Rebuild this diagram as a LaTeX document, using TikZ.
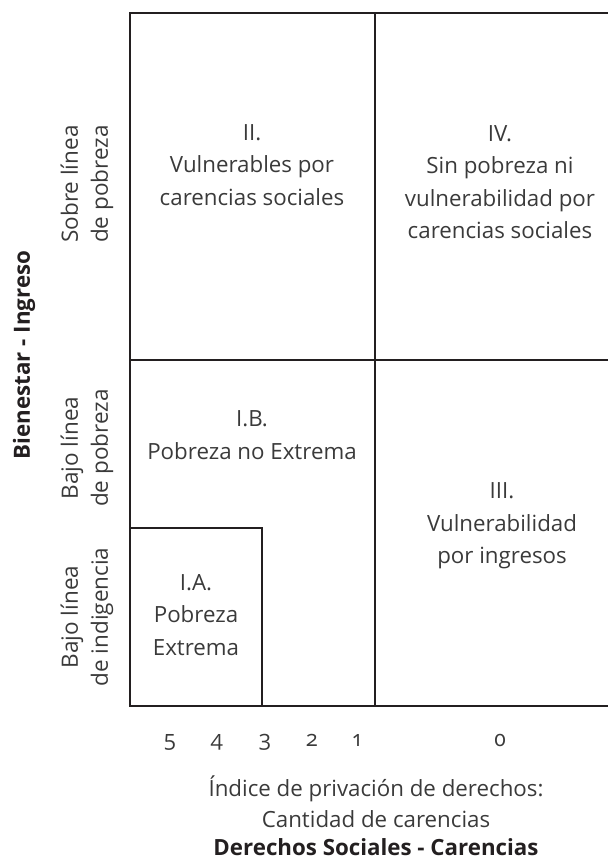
\documentclass[tikz,border=0pt]{standalone}
\usepackage{fontspec}
\setmainfont{Open Sans}[Numbers=OldStyle]
\definecolor{linecol}{HTML}{231F20}
\definecolor{txtcol}{HTML}{3A3A3A}
\begin{document}
\begin{tikzpicture}[x=1pt,y=-1pt,
  grid/.style={draw=linecol, line width=2.6pt, line cap=rect},
  celltext/.style={align=center, text=txtcol, inner sep=0pt, font=\fontsize{22.3}{32.5}\selectfont},
  sidetext/.style={align=center, text=txtcol, inner sep=0pt, rotate=90, font=\fontsize{22.5}{30}\selectfont},
  axistitle/.style={align=center, text=linecol, inner sep=0pt, font=\bfseries\fontsize{22.3}{30}\selectfont},
  numtext/.style={text=txtcol, inner sep=0pt, font=\fontsize{22}{24}\selectfont}]
\useasboundingbox (0,0) rectangle (608,860);
% grid coordinates
\coordinate (tl) at (130,13);
\coordinate (tm) at (375,13);
\coordinate (tr) at (608,13);
\coordinate (ml) at (130,360);
\coordinate (mr) at (608,360);
\coordinate (sl) at (130,528);
\coordinate (sc) at (262,528);
\coordinate (bl) at (130,706);
\coordinate (bs) at (262,706);
\coordinate (bm) at (375,706);
\coordinate (br) at (608,706);
% grid lines
\draw[grid] (tr) -- (tl) -- (bl) -- (br);
\draw[grid] (tm) -- (bm);
\draw[grid] (ml) -- (mr);
\draw[grid] (sl) -- (sc) -- (bs);
% cell texts
\node[celltext] (q2) at (252,165) {II.\\Vulnerables por\\carencias sociales};
\node[celltext] (q4) at (500,182) {IV.\\Sin pobreza ni\\vulnerabilidad por\\carencias sociales};
\node[celltext] (q1b) at (252,435) {I.B.\\Pobreza no Extrema};
\node[celltext] (q3) at (502,526) {III.\\Vulnerabilidad\\por ingresos};
\node[celltext] (q1a) at (196,615) {I.A.\\Pobreza\\Extrema};
% left labels
\node[sidetext] (sobre) at (87,184) {Sobre línea\\de pobreza};
\node[sidetext] (bajop) at (87,448) {Bajo línea\\de pobreza};
\node[sidetext] (bajoi) at (87,617) {Bajo línea\\de indigencia};
\node[axistitle, rotate=90] (ytitle) at (24,355) {Bienestar - Ingreso};
% numbers
\node[numtext] (n5) at (170,742) {5};
\node[numtext] (n4) at (217,742) {4};
\node[numtext] (n3) at (265,742) {3};
\node[numtext] (n2) at (312,740) {2};
\node[numtext] (n1) at (357,740) {1};
\node[numtext] (n0) at (500,740) {0};
% bottom texts
\node[celltext, font=\fontsize{22.3}{31}\selectfont] (xsub) at (376,802) {Índice de privación de derechos:\\Cantidad de carencias};
\node[axistitle] (xtitle) at (376,847) {Derechos Sociales - Carencias};
\end{tikzpicture}
\end{document}
